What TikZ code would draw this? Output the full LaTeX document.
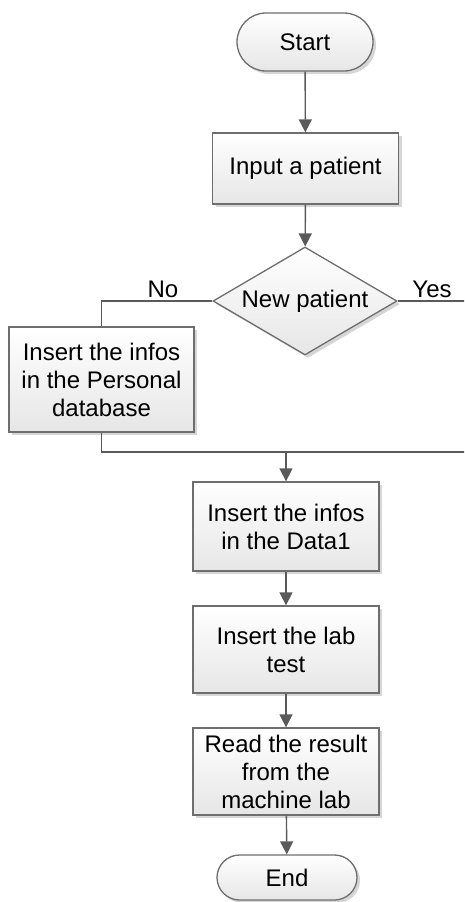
\documentclass[tikz,border=0pt]{standalone}
\usepackage{fontspec}
\setmainfont{Liberation Sans}
\usetikzlibrary{arrows.meta,shapes.geometric,shapes.misc,shadows}
\definecolor{boxline}{HTML}{6E6E6E}
\definecolor{boxfill}{HTML}{E6E6E6}
\definecolor{linkcol}{HTML}{5A5A5A}
\begin{document}
\begin{tikzpicture}[x=1pt,y=-1pt,
  every node/.style={font=\fontsize{24}{28}\selectfont, text=black},
  shade/.style={draw=boxline, line width=1.3pt, top color=white, bottom color=boxfill,
    drop shadow={shadow xshift=3pt, shadow yshift=-3pt, fill=black, opacity=0.16}},
  proc/.style={shade, rectangle, align=center, inner sep=0pt, minimum width=186pt},
  term/.style={shade, rounded rectangle, inner sep=0pt},
  decision/.style={shade, diamond, aspect=1.7, inner sep=0pt, minimum width=184pt, minimum height=108pt},
  link/.style={draw=linkcol, line width=1.4pt},
  arrow/.style={link, -{Triangle[length=13pt,width=13pt]}},
  lbl/.style={inner sep=0pt}
]
\useasboundingbox (0,0) rectangle (464,902);
\clip (0,0) rectangle (464,902);

% nodes
\node[term, minimum width=136pt, minimum height=58pt] (start) at (305,42) {Start};
\node[proc, minimum height=71pt] (input) at (305.5,168.5) {Input a patient};
\node[decision] (dec) at (305,301) {New patient};
\node[proc, minimum width=185pt, minimum height=105pt] (personal) at (101.5,379.5)
  {Insert the infos\\in the Personal\\database};
\node[proc, minimum height=89pt] (data1) at (286,526.5) {Insert the infos\\in the Data1};
\node[proc, minimum height=87pt] (lab) at (286,649.5) {Insert the lab\\test};
\node[proc, minimum height=87pt] (read) at (286,771.5) {Read the result\\from the\\machine lab};
\node[term, minimum width=140pt, minimum height=45pt] (end) at (287,877.5) {End};

% junction points of the two branches
\coordinate (mg) at (286,452);
\coordinate (mgR) at (472,452);

% connectors
\draw[arrow] (start) -- (input);
\draw[arrow] (input) -- (dec);
\draw[link] (dec.west) -| (personal.north);
\draw[link] (dec.east) -| (mgR);
\draw[link] (personal.south) |- (mgR);
\draw[arrow] (mg) -- (data1);
\draw[arrow] (data1) -- (lab);
\draw[arrow] (lab) -- (read);
\draw[arrow] (read) -- (end);

% branch labels
\node[lbl] (no) at (163,289) {No};
\node[lbl] (yes) at (432,289) {Yes};
\end{tikzpicture}
\end{document}
